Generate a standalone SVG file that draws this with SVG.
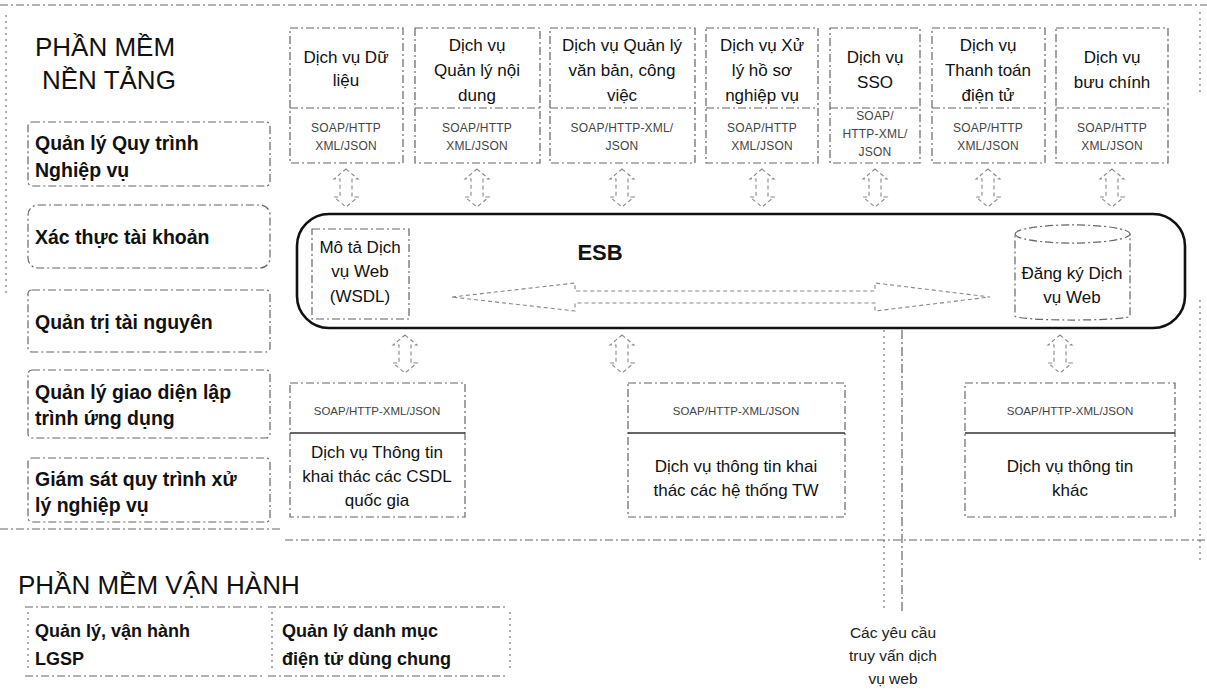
<svg xmlns="http://www.w3.org/2000/svg" width="1207" height="696" viewBox="0 0 1207 696">
<style>
.bg{fill:#fff}
.dash{fill:none;stroke:#666;stroke-width:1.2;stroke-dasharray:8 3 2 3}
.dot{fill:none;stroke:#777;stroke-width:1.2;stroke-dasharray:2 4}
.ttl{font-family:"Liberation Sans",Arial,sans-serif;font-size:26px;fill:#111}
.lb{font-family:"Liberation Sans",Arial,sans-serif;font-size:19.5px;font-weight:bold;fill:#111}
.lb2{font-family:"Liberation Sans",Arial,sans-serif;font-size:18px;font-weight:bold;fill:#111}
.sv{font-family:"Liberation Sans",Arial,sans-serif;font-size:17px;fill:#111;text-anchor:middle}
.pr{font-family:"Liberation Sans",Arial,sans-serif;font-size:12px;fill:#444;text-anchor:middle;letter-spacing:0.2px}
.pr2{font-family:"Liberation Sans",Arial,sans-serif;font-size:11.5px;fill:#444;text-anchor:middle}
.esb{font-family:"Liberation Sans",Arial,sans-serif;font-size:22px;font-weight:bold;fill:#111;text-anchor:middle}
.sm{font-family:"Liberation Sans",Arial,sans-serif;font-size:15.5px;fill:#222;text-anchor:middle}
.arr{fill:#fff;stroke:#888;stroke-width:1.1;stroke-dasharray:4 3}
</style>
<defs>
<path id="dbl" d="M0,-19 L12,-9 L6,-9 L6,9 L12,9 L0,19 L-12,9 L-6,9 L-6,-9 L-12,-9 Z"/>
</defs>
<rect class="bg" x="0" y="0" width="1207" height="696"/>

<g id="frame">
<line class="dash" x1="0" y1="5" x2="1207" y2="5"/>
<line class="dot" x1="6" y1="15" x2="6" y2="295"/>
<line class="dot" x1="1200" y1="12" x2="1200" y2="95"/>
<line class="dot" x1="1200" y1="300" x2="1200" y2="560"/>
<line class="dash" x1="0" y1="529" x2="282" y2="529"/>
<line class="dash" x1="285" y1="540" x2="1207" y2="540"/>
</g>

<g id="title-nen-tang">
<text class="ttl" x="35" y="56">PHẦN MỀM</text>
<text class="ttl" x="42" y="89">NỀN TẢNG</text>
</g>

<g id="left-qlqt">
<rect class="dash" x="28" y="122" width="242" height="64" rx="4"/>
<text class="lb" x="35" y="150">Quản lý Quy trình</text>
<text class="lb" x="35" y="177">Nghiệp vụ</text>
</g>
<g id="left-xttk">
<rect class="dash" x="28" y="205" width="242" height="63" rx="10"/>
<text class="lb" x="35" y="244">Xác thực tài khoản</text>
</g>
<g id="left-qttn">
<rect class="dash" x="28" y="290" width="242" height="62" rx="4"/>
<text class="lb" x="35" y="329">Quản trị tài nguyên</text>
</g>
<g id="left-qlgd">
<rect class="dash" x="28" y="370" width="242" height="68" rx="4"/>
<text class="lb" x="35" y="399">Quản lý giao diện lập</text>
<text class="lb" x="35" y="425">trình ứng dụng</text>
</g>
<g id="left-gsqt">
<rect class="dash" x="28" y="458" width="242" height="64" rx="4"/>
<text class="lb" x="35" y="486">Giám sát quy trình xử</text>
<text class="lb" x="35" y="512">lý nghiệp vụ</text>
</g>

<g id="svc-du-lieu">
<rect class="dash" x="290" y="28" width="113" height="135"/>
<line class="dash" x1="290" y1="108" x2="403" y2="108"/>
<text class="sv" x="346" y="63">Dịch vụ Dữ</text>
<text class="sv" x="346" y="86">liệu</text>
<text class="pr" x="346" y="132">SOAP/HTTP</text>
<text class="pr" x="346" y="150">XML/JSON</text>
</g>
<g id="svc-noi-dung">
<rect class="dash" x="415" y="28" width="125" height="135"/>
<line class="dash" x1="415" y1="108" x2="540" y2="108"/>
<text class="sv" x="477" y="51">Dịch vụ</text>
<text class="sv" x="477" y="76">Quản lý nội</text>
<text class="sv" x="477" y="101">dung</text>
<text class="pr" x="477" y="132">SOAP/HTTP</text>
<text class="pr" x="477" y="150">XML/JSON</text>
</g>
<g id="svc-van-ban">
<rect class="dash" x="550" y="28" width="145" height="135"/>
<line class="dash" x1="550" y1="108" x2="695" y2="108"/>
<text class="sv" x="622" y="51">Dịch vụ Quản lý</text>
<text class="sv" x="622" y="76">văn bản, công</text>
<text class="sv" x="622" y="101">việc</text>
<text class="pr" x="622" y="132">SOAP/HTTP-XML/</text>
<text class="pr" x="622" y="150">JSON</text>
</g>
<g id="svc-ho-so">
<rect class="dash" x="706" y="28" width="112" height="135"/>
<line class="dash" x1="706" y1="108" x2="818" y2="108"/>
<text class="sv" x="762" y="51">Dịch vụ Xử</text>
<text class="sv" x="762" y="76">lý hồ sơ</text>
<text class="sv" x="762" y="101">nghiệp vụ</text>
<text class="pr" x="762" y="132">SOAP/HTTP</text>
<text class="pr" x="762" y="150">XML/JSON</text>
</g>
<g id="svc-sso">
<rect class="dash" x="830" y="28" width="90" height="135"/>
<line class="dash" x1="830" y1="108" x2="920" y2="108"/>
<text class="sv" x="875" y="63">Dịch vụ</text>
<text class="sv" x="875" y="88">SSO</text>
<text class="pr" x="875" y="120">SOAP/</text>
<text class="pr" x="875" y="138">HTTP-XML/</text>
<text class="pr" x="875" y="156">JSON</text>
</g>
<g id="svc-thanh-toan">
<rect class="dash" x="932" y="28" width="113" height="135"/>
<line class="dash" x1="932" y1="108" x2="1045" y2="108"/>
<text class="sv" x="988" y="51">Dịch vụ</text>
<text class="sv" x="988" y="76">Thanh toán</text>
<text class="sv" x="988" y="101">điện tử</text>
<text class="pr" x="988" y="132">SOAP/HTTP</text>
<text class="pr" x="988" y="150">XML/JSON</text>
</g>
<g id="svc-buu-chinh">
<rect class="dash" x="1056" y="28" width="112" height="135"/>
<line class="dash" x1="1056" y1="108" x2="1168" y2="108"/>
<text class="sv" x="1112" y="63">Dịch vụ</text>
<text class="sv" x="1112" y="88">bưu chính</text>
<text class="pr" x="1112" y="132">SOAP/HTTP</text>
<text class="pr" x="1112" y="150">XML/JSON</text>
</g>

<g id="esb">
<rect x="297" y="214" width="888" height="114" rx="32" fill="#fff" stroke="#111" stroke-width="2.6"/>
<text class="esb" x="600" y="260">ESB</text>
</g>
<g id="wsdl">
<rect class="dash" x="312" y="229" width="97" height="90"/>
<text class="sv" x="360" y="253">Mô tả Dịch</text>
<text class="sv" x="360" y="277">vụ Web</text>
<text class="sv" x="360" y="302">(WSDL)</text>
</g>
<g id="registry">
<path class="dash" d="M1015,234 A57,9 0 0 1 1130,234 L1130,316 A57,4 0 0 1 1015,316 Z"/>
<path class="dash" d="M1015,234 A57,9 0 0 0 1130,234"/>
<text class="sv" x="1072" y="279">Đăng ký Dịch</text>
<text class="sv" x="1072" y="303">vụ Web</text>
</g>

<g id="svc-csdl">
<rect class="dash" x="290" y="383" width="175" height="134"/>
<line x1="290" y1="433" x2="465" y2="433" stroke="#333" stroke-width="1.4"/>
<text class="pr2" x="377" y="415">SOAP/HTTP-XML/JSON</text>
<text class="sv" x="377" y="458">Dịch vụ Thông tin</text>
<text class="sv" x="377" y="482">khai thác các CSDL</text>
<text class="sv" x="377" y="506">quốc gia</text>
</g>
<g id="svc-tw">
<rect class="dash" x="628" y="383" width="217" height="134"/>
<line x1="628" y1="433" x2="845" y2="433" stroke="#333" stroke-width="1.4"/>
<text class="pr2" x="736" y="415">SOAP/HTTP-XML/JSON</text>
<text class="sv" x="736" y="472">Dịch vụ thông tin khai</text>
<text class="sv" x="736" y="496">thác các hệ thống TW</text>
</g>
<g id="svc-khac">
<rect class="dash" x="965" y="383" width="210" height="134"/>
<line x1="965" y1="433" x2="1175" y2="433" stroke="#333" stroke-width="1.4"/>
<text class="pr2" x="1070" y="415">SOAP/HTTP-XML/JSON</text>
<text class="sv" x="1070" y="472">Dịch vụ thông tin</text>
<text class="sv" x="1070" y="496">khác</text>
</g>

<g id="connectors">
<use href="#dbl" class="arr" x="346" y="188"/>
<use href="#dbl" class="arr" x="477" y="188"/>
<use href="#dbl" class="arr" x="622" y="188"/>
<use href="#dbl" class="arr" x="762" y="188"/>
<use href="#dbl" class="arr" x="875" y="188"/>
<use href="#dbl" class="arr" x="988" y="188"/>
<use href="#dbl" class="arr" x="1112" y="188"/>
<use href="#dbl" class="arr" x="405" y="354"/>
<use href="#dbl" class="arr" x="622" y="354"/>
<use href="#dbl" class="arr" x="1060" y="354"/>
<path class="arr" d="M452,297 L575,283 L575,291 L875,291 L875,283 L990,297 L875,311 L875,303 L575,303 L575,311 Z"/>
<line class="dot" x1="884" y1="330" x2="884" y2="612"/>
<line x1="902" y1="330" x2="902" y2="612" stroke="#666" stroke-width="1.2" stroke-dasharray="9 3 2 3"/>
</g>

<g id="title-van-hanh">
<text class="ttl" x="18" y="594">PHẦN MỀM VẬN HÀNH</text>
</g>
<g id="vh-lgsp">
<line class="dash" x1="25" y1="607" x2="262" y2="607"/>
<line class="dot" x1="28" y1="612" x2="28" y2="672"/>
<line class="dash" x1="25" y1="676" x2="262" y2="676"/>
<text class="lb2" x="35" y="637">Quản lý, vận hành</text>
<text class="lb2" x="35" y="665">LGSP</text>
</g>
<g id="vh-danh-muc">
<line class="dash" x1="268" y1="607" x2="505" y2="607"/>
<line class="dot" x1="272" y1="612" x2="272" y2="672"/>
<line class="dot" x1="510" y1="612" x2="510" y2="672"/>
<line class="dash" x1="268" y1="676" x2="505" y2="676"/>
<text class="lb2" x="282" y="637">Quản lý danh mục</text>
<text class="lb2" x="282" y="665">điện tử dùng chung</text>
</g>
<g id="yeu-cau">
<text class="sm" x="893" y="638">Các yêu cầu</text>
<text class="sm" x="893" y="661">truy vấn dịch</text>
<text class="sm" x="893" y="684">vụ web</text>
</g>
</svg>
